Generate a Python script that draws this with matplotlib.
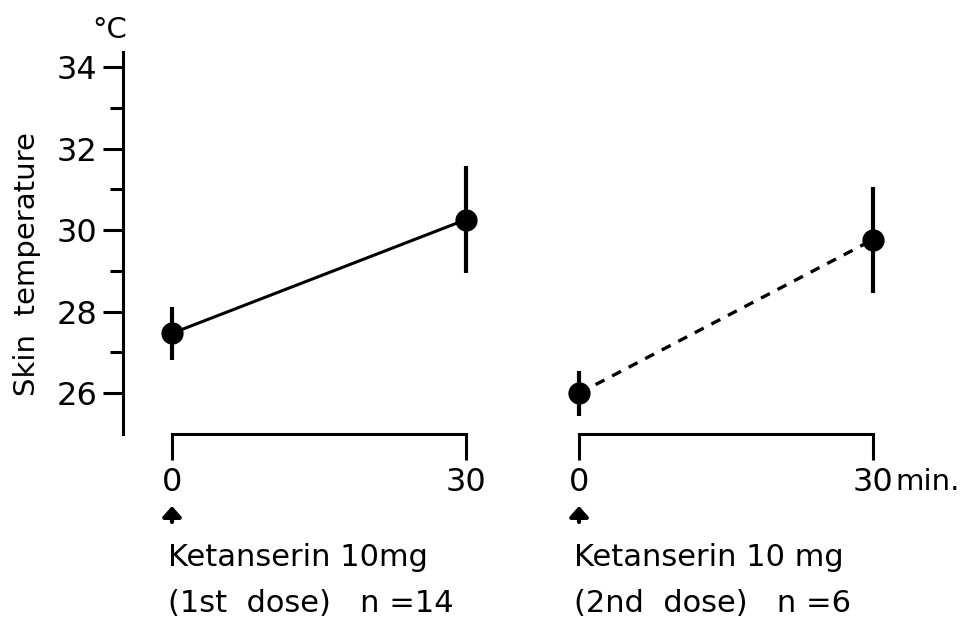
import matplotlib
matplotlib.use("Agg")
import matplotlib.pyplot as plt
from matplotlib.ticker import FixedLocator

# data
time_min = [0, 30]
dose1_temp = [27.47, 30.26]
dose1_err = [0.65, 1.32]
dose2_temp = [26.0, 29.77]
dose2_err = [0.55, 1.3]
y_major = [26, 28, 30, 32, 34]
y_minor = [27, 29, 31, 33]
x_ticks = [0, 30]

W, H = 966, 621
FS = 22


def rect(left, right, top, bottom):
    # pixel box -> figure fraction
    return [left / W, 1 - bottom / H, (right - left) / W, (bottom - top) / H]


def fx(px):
    return px / W


def fy(py):
    return 1 - py / H


fig = plt.figure(figsize=(W / 100, H / 100), dpi=100)
ax1 = fig.add_axes(rect(123, 520, 52, 434))
ax2 = fig.add_axes(rect(549.6, 932, 52, 434))

for ax in (ax1, ax2):
    ax.set_ylim(25.0, 34.37)
    ax.patch.set_visible(False)
    for s in ("top", "right"):
        ax.spines[s].set_visible(False)
    ax.spines["bottom"].set_bounds(0, 30)
    ax.spines["bottom"].set_linewidth(2.2)
    ax.set_xticks(x_ticks)
    ax.tick_params(axis="x", direction="out", length=19, width=2.2, pad=5,
                   labelsize=23)

ax1.set_xlim(-5, 35.5)
ax2.set_xlim(-3, 36)

ax1.spines["left"].set_linewidth(2.2)
ax1.yaxis.set_major_locator(FixedLocator(y_major))
ax1.yaxis.set_minor_locator(FixedLocator(y_minor))
ax1.tick_params(axis="y", which="major", direction="out", length=14.5, width=2.2,
                pad=4, labelsize=23)
ax1.tick_params(axis="y", which="minor", direction="out", length=9.5, width=2.2)

ax2.spines["left"].set_visible(False)
ax2.set_yticks([])

# 1st dose: solid line
ax1.plot(time_min, dose1_temp, color="black", lw=2.2, clip_on=False)
ax1.errorbar(time_min, dose1_temp, yerr=dose1_err, fmt="o", color="black",
             ms=15, elinewidth=3, capsize=0, clip_on=False)

# 2nd dose: dashed line
ax2.plot(time_min, dose2_temp, color="black", lw=2.4, ls=(0, (3, 2.6)),
         clip_on=False)
ax2.errorbar(time_min, dose2_temp, yerr=dose2_err, fmt="o", color="black",
             ms=15, elinewidth=3, capsize=0, clip_on=False)

# labels
fig.text(fx(27), fy(264), "Skin  temperature", rotation=90, ha="center",
         va="center", fontsize=21)
fig.text(fx(110), fy(30), "°C", ha="center", va="center", fontsize=21)
fig.text(fx(895), fy(482), "min.", ha="left", va="center", fontsize=21)

for ax in (ax1, ax2):
    ax.annotate("", xy=(0, fy(506)), xycoords=("data", "figure fraction"),
                xytext=(0, fy(522)), textcoords=("data", "figure fraction"),
                arrowprops=dict(arrowstyle="-|>,head_length=0.45,head_width=0.4",
                                color="black", lw=3, mutation_scale=14,
                                shrinkA=0, shrinkB=0))

fig.text(fx(168), fy(566), "Ketanserin 10mg", ha="left", va="baseline", fontsize=FS)
fig.text(fx(168), fy(612), "(1st  dose)   n =14", ha="left", va="baseline",
         fontsize=FS)
fig.text(fx(574), fy(566), "Ketanserin 10 mg", ha="left", va="baseline", fontsize=FS)
fig.text(fx(574), fy(612), "(2nd  dose)   n =6", ha="left", va="baseline",
         fontsize=FS)

fig.savefig("out.png", dpi=100, facecolor="white")
